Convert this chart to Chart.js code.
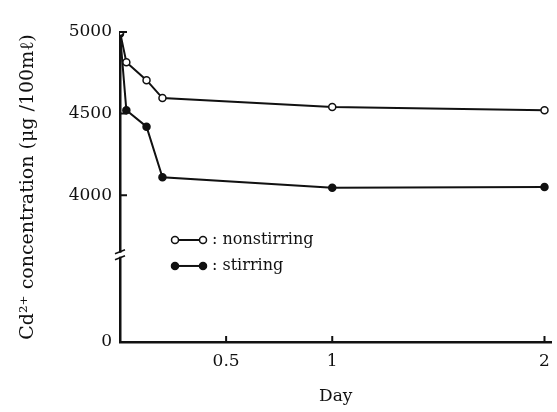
<!DOCTYPE html>
<html>
<head>
<meta charset="utf-8">
<script src="https://cdn.jsdelivr.net/npm/chart.js@4.4.1/dist/chart.umd.min.js"></script>
<style>
  body { margin: 0; background: #fff; }
  #wrap { width: 557px; height: 412px; }
</style>
</head>
<body>
<div id="wrap"><canvas id="cd-chart"></canvas></div>
<script>
// time in days
const days = [0, 0.03, 0.125, 0.2, 1, 2];
const nonstirring = [5000, 4815, 4705, 4595, 4540, 4520];
const stirring = [4990, 4520, 4420, 4110, 4045, 4050];

const xTicks = [0.5, 1, 2];
const yTicks = [4000, 4500, 5000];
const yBreakFloor = 3100; // shown as "0" under the axis break

const serif = 'DejaVu Serif';
const ink = '#111';

// inward tick marks, axis break and the in-plot legend
const axisDecor = {
    id: 'axisDecor',
    afterDraw(chart) {
        const { ctx, chartArea: a, scales: { x, y } } = chart;
        ctx.save();
        ctx.strokeStyle = ink;
        ctx.lineWidth = 2;
        ctx.beginPath();
        xTicks.forEach(v => {
            const px = x.getPixelForValue(v);
            ctx.moveTo(px, a.bottom);
            ctx.lineTo(px, a.bottom - 6);
        });
        yTicks.forEach(v => {
            const py = y.getPixelForValue(v);
            ctx.moveTo(a.left, py);
            ctx.lineTo(a.left + 7, py);
        });
        ctx.stroke();

        // break mark on the y axis
        const by = y.getPixelForValue(3635);
        ctx.fillStyle = '#fff';
        ctx.fillRect(a.left - 3, by - 2, 6, 4);
        ctx.lineWidth = 1.5;
        ctx.beginPath();
        ctx.moveTo(a.left - 5, by - 1);
        ctx.lineTo(a.left + 5, by - 5);
        ctx.moveTo(a.left - 5, by + 5);
        ctx.lineTo(a.left + 5, by + 1);
        ctx.stroke();

        // legend
        const rows = [
            { ds: chart.data.datasets[0], y: y.getPixelForValue(3725) },
            { ds: chart.data.datasets[1], y: y.getPixelForValue(3566) }
        ];
        ctx.font = '16px "' + serif + '"';
        ctx.textBaseline = 'middle';
        rows.forEach(r => {
            const x0 = 175, x1 = 203;
            ctx.strokeStyle = ink;
            ctx.lineWidth = 2;
            ctx.beginPath();
            ctx.moveTo(x0, r.y);
            ctx.lineTo(x1, r.y);
            ctx.stroke();
            [x0, x1].forEach(px => {
                ctx.beginPath();
                ctx.arc(px, r.y, 3.5, 0, Math.PI * 2);
                ctx.fillStyle = r.ds.pointBackgroundColor;
                ctx.fill();
                ctx.lineWidth = 1.5;
                ctx.stroke();
            });
            ctx.fillStyle = ink;
            ctx.fillText(': ' + r.ds.label, 212, r.y);
        });
        ctx.restore();
    }
};

const toPoints = vals => vals.map((v, i) => ({ x: days[i], y: v }));

new Chart(document.getElementById('cd-chart'), {
    type: 'line',
    data: {
        datasets: [{
            label: 'nonstirring',
            data: toPoints(nonstirring),
            borderColor: ink,
            borderWidth: 2,
            pointRadius: 3.5,
            pointBorderWidth: 1.5,
            pointBackgroundColor: '#fff',
            pointBorderColor: ink,
            tension: 0
        }, {
            label: 'stirring',
            data: toPoints(stirring),
            borderColor: ink,
            borderWidth: 2,
            pointRadius: 3.5,
            pointBorderWidth: 1.5,
            pointBackgroundColor: ink,
            pointBorderColor: ink,
            tension: 0
        }]
    },
    options: {
        responsive: true,
        maintainAspectRatio: false,
        animation: false,
        layout: { padding: { top: 32, right: -6, left: 0, bottom: 0 } },
        plugins: {
            legend: { display: false },
            tooltip: { enabled: false }
        },
        scales: {
            x: {
                type: 'linear',
                min: 0,
                max: 2.033,
                afterBuildTicks: s => { s.ticks = xTicks.map(v => ({ value: v })); },
                afterFit: s => { s.height = 70; s.paddingLeft = 0; s.paddingRight = 0; },
                grid: { drawOnChartArea: false, drawTicks: false },
                border: { color: ink, width: 2.5 },
                ticks: {
                    color: ink,
                    padding: 9,
                    font: { family: serif, size: 17 },
                    callback: v => String(v)
                },
                title: {
                    display: true,
                    text: 'Day',
                    color: ink,
                    font: { family: serif, size: 17 },
                    padding: { top: 0, bottom: 5 }
                }
            },
            y: {
                min: yBreakFloor,
                max: 5000,
                afterBuildTicks: s => { s.ticks = [yBreakFloor, ...yTicks].map(v => ({ value: v })); },
                afterFit: s => { s.width = 120; },
                grid: { drawOnChartArea: false, drawTicks: false },
                border: { color: ink, width: 2.5 },
                ticks: {
                    color: ink,
                    padding: 8,
                    font: { family: serif, size: 17 },
                    callback: v => v === yBreakFloor ? '0' : String(v)
                },
                title: {
                    display: true,
                    text: 'Cd²⁺ concentration (μg /100mℓ)',
                    color: ink,
                    font: { family: serif, size: 19 },
                    padding: { top: 17, bottom: 0 }
                }
            }
        }
    },
    plugins: [axisDecor]
});
</script>
</body>
</html>
